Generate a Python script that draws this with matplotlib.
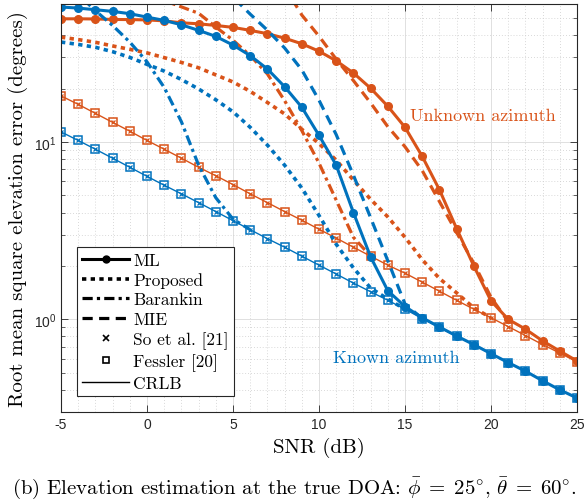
import numpy as np
import matplotlib
matplotlib.use('Agg')
import matplotlib.pyplot as plt
from matplotlib.lines import Line2D
from matplotlib.ticker import FixedLocator, LogLocator, NullFormatter, MultipleLocator

plt.rcParams['mathtext.fontset'] = 'cm'
plt.rcParams['axes.unicode_minus'] = False

# SNR (dB)
snr = [-5, -4, -3, -2, -1, 0, 1, 2, 3, 4, 5, 6, 7, 8, 9, 10,
       11, 12, 13, 14, 15, 16, 17, 18, 19, 20, 21, 22, 23, 24, 25]

# azimut conocido (azul)
ml_known = [57.7, 56.9, 55.7, 54.5, 52.9, 50.6, 48.5, 45.8, 42.6, 39.4, 35.2,
            30.7, 25.8, 20.5, 15.7, 10.9, 7.4, 4.0, 2.25, 1.45, 1.18,
            1.02, 0.905, 0.805, 0.72, 0.64, 0.57, 0.51, 0.45, 0.40, 0.36]
prop_known = [36.6, 35.5, 34.2, 32.3, 30.0, 27.4, 25.1, 22.5, 19.9, 17.3, 14.8,
              12.1, 9.6, 7.4, 5.5, 3.85, 2.65, 1.95, 1.5, 1.3, 1.14,
              None, None, None, None, None, None, None, None, None, None]
bar_known = [None, 68, 55, 45.4, 36.6, 28.3, 20.3, 13.0, 7.4, 4.85, 3.67,
             3.2, None, None, None, None, None, None, None, None, None,
             None, None, None, None, None, None, None, None, None, None]
mie_known = [None, None, None, None, None, None, None, None, None, 82, 65.6,
             52.6, 42.7, 33.9, 25.5, 17.2, 11.0, 6.5, 3.74, 2.14, 1.22,
             1.01, None, None, None, None, None, None, None, None, None]
crlb_known = [11.4, 10.2, 9.1, 8.1, 7.2, 6.4, 5.7, 5.1, 4.55, 4.05, 3.6,
              3.2, 2.85, 2.55, 2.27, 2.02, 1.8, 1.6, 1.43, 1.28, 1.14,
              1.01, 0.90, 0.80, 0.72, 0.64, 0.57, 0.51, 0.45, 0.40, 0.36]

# azimut desconocido (naranja)
ml_unknown = [49.5, 49.5, 49.4, 49.1, 49.0, 48.8, 48.2, 47.0, 46.4, 45.4, 44.3,
              42.6, 40.8, 38.5, 35.8, 32.5, 28.7, 24.5, 20.1, 15.9, 12.1,
              8.3, 5.38, 3.25, 2.0, 1.27, 1.0, 0.88, 0.755, 0.662, 0.582]
prop_unknown = [39.0, 37.8, 36.5, 34.8, 33.3, 31.8, 29.9, 28.1, 26.2, 23.9, 21.8,
                19.3, 16.7, 14.4, 11.8, 9.8, 7.9, 6.1, 4.75, 3.78, 2.9,
                2.17, 1.70, 1.41, 1.16, 1.02, None, None, None, None, None]
bar_unknown = [None, None, None, None, None, 67, 62.7, 57.8, 53.2, 44.5, 37.5,
               30.7, 24.2, 17.1, 11.6, 7.6, 4.7, 2.9, 2.27, None, None,
               None, None, None, None, None, None, None, None, None, None]
mie_unknown = [None, None, None, None, None, None, None, None, None, None, None,
               None, None, 75, 52, 39.5, 29.3, 22.2, 16.6, 12.2, 9.4,
               6.9, 4.62, 3.09, 2.07, 1.33, 0.97, None, None, None, None]
crlb_unknown = [18.2, 16.3, 14.5, 12.9, 11.5, 10.2, 9.1, 8.1, 7.2, 6.45, 5.75,
                5.1, 4.55, 4.05, 3.62, 3.22, 2.87, 2.55, 2.27, 2.02, 1.82,
                1.62, 1.44, 1.28, 1.14, 1.02, 0.91, 0.81, 0.72, 0.645, 0.575]

azul = '#0072BD'
naranja = '#D95319'

punteado = (0, (1.2, 1.2))
rayado = (0, (3.2, 2.0))
rayapunto = (0, (3.2, 1.3, 1.0, 1.3))

def arr(v):
    return np.array([np.nan if x is None else x for x in v], dtype=float)

fig = plt.figure(figsize=(5.88, 5.02), dpi=100)
ax = fig.add_axes([61/588, 89/502, 516/588, 408/502])

for color, ml, prop, bar, mie, crlb in [
        (naranja, ml_unknown, prop_unknown, bar_unknown, mie_unknown, crlb_unknown),
        (azul, ml_known, prop_known, bar_known, mie_known, crlb_known)]:
    ax.plot(snr, arr(prop), color=color, lw=2.6, ls=punteado)
    ax.plot(snr, arr(bar), color=color, lw=2.3, ls=rayapunto)
    ax.plot(snr, arr(mie), color=color, lw=2.3, ls=rayado)
    ax.plot(snr, arr(crlb), color=color, lw=1.0)
    ax.plot(snr, arr(crlb), color=color, ls='none', marker='s', ms=5.8, mfc='none', mew=1.1)
    ax.plot(snr, arr(crlb), color=color, ls='none', marker='x', ms=3.5, mew=0.9)
    ax.plot(snr, arr(ml), color=color, lw=2.2, marker='o', ms=5.5)

ax.set_yscale('log')
ax.set_xlim(-5, 25)
ax.set_ylim(0.3, 60)

ax.set_xticks([-5, 0, 5, 10, 15, 20, 25])
ax.set_xticklabels(['-5', '0', '5', '10', '15', '20', '25'],
                   fontfamily='Liberation Sans', fontsize=10, color='#262626')
ax.xaxis.set_minor_locator(MultipleLocator(1))
ax.yaxis.set_major_locator(FixedLocator([1, 10]))
ax.set_yticklabels([r'$\mathdefault{10^{0}}$', r'$\mathdefault{10^{1}}$'],
                   fontfamily='Liberation Sans', fontsize=10, color='#262626')
ax.yaxis.set_minor_locator(LogLocator(base=10, subs=np.arange(2, 10)))
ax.yaxis.set_minor_formatter(NullFormatter())

ax.tick_params(which='both', direction='in', top=True, right=True, colors='#262626')
ax.tick_params(which='major', length=5, width=0.6)
ax.tick_params(axis='y', which='minor', length=3, width=0.5)
ax.tick_params(axis='x', which='minor', length=0)
for s in ax.spines.values():
    s.set_color('#262626')
    s.set_linewidth(0.8)

ax.grid(True, which='major', color='#e0e0e0', lw=0.7, ls='-')
ax.grid(True, which='minor', color='#cccccc', lw=0.6, ls=(0, (1, 2.5)))
ax.set_axisbelow(True)

ax.set_xlabel('SNR (dB)', fontfamily='cmr10', fontsize=15, labelpad=4)
ax.set_ylabel('Root mean square elevation error (degrees)', fontfamily='cmr10',
              fontsize=15, labelpad=4)

ax.text(19.53, 14.2, 'Unknown azimuth', color=naranja, fontfamily='cmr10',
        fontsize=13, ha='center', va='center')
ax.text(14.52, 0.607, 'Known azimuth', color=azul, fontfamily='cmr10',
        fontsize=13, ha='center', va='center')

handles = [
    Line2D([], [], color='k', lw=2.2, marker='o', ms=5),
    Line2D([], [], color='k', lw=2.6, ls=punteado),
    Line2D([], [], color='k', lw=2.3, ls=rayapunto),
    Line2D([], [], color='k', lw=2.3, ls=rayado),
    Line2D([], [], color='k', ls='none', marker='x', ms=4, mew=1.2),
    Line2D([], [], color='k', ls='none', marker='s', ms=5, mfc='none', mew=1.2),
    Line2D([], [], color='k', lw=1.0),
]
labels = ['ML', 'Proposed', 'Barankin', 'MIE', 'So et al. [21]', 'Fessler [20]', 'CRLB']
leg = ax.legend(handles, labels, loc='lower left', bbox_to_anchor=(0.031, 0.039),
                borderaxespad=0, prop={'family': 'cmr10', 'size': 12.5},
                handlelength=2.7, handletextpad=0.25, labelspacing=0.25,
                borderpad=0.3, numpoints=1, fancybox=False, framealpha=1,
                edgecolor='#262626')
leg.get_frame().set_linewidth(0.8)

fig.text(0.5, (502 - 488) / 502,
         r'(b) Elevation estimation at the true DOA: $\bar{\phi}\;=\;25^{\circ}$, $\bar{\theta}\;=\;60^{\circ}$.',
         fontfamily='cmr10', fontsize=15, ha='center', va='center')

fig.savefig('out.png', dpi=100)
